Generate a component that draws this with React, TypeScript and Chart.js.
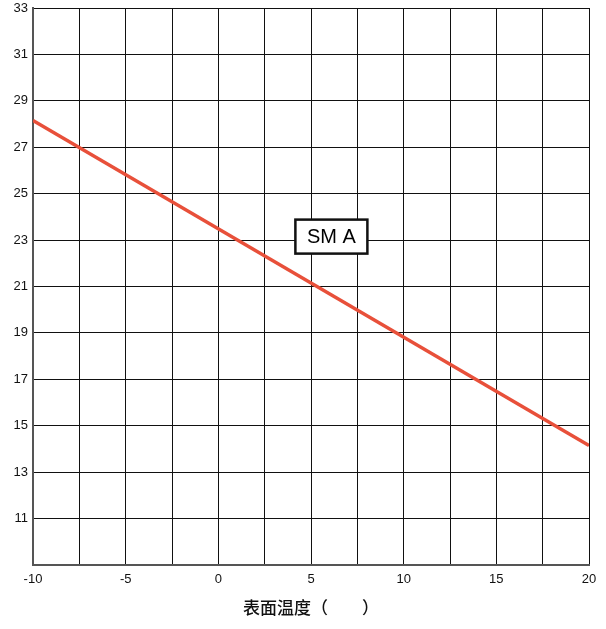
import React, { useEffect, useRef } from "react";
import { Chart, registerables } from "chart.js";

Chart.register(...registerables);

const xValues = [-10, 20];
const yValues = [28.15, 14.15];
const seriesLabel = "SM A";
const labelAt = { x: 6.1, y: 23.15 };
const xTitle = "表面温度（　　）";
const xMin = -10, xMax = 20, xStep = 2.5;
const yMin = 9, yMax = 33, yStep = 2;

const labelPlugin = {
  id: "smaLabel",
  afterDatasetsDraw(chart: any) {
    const { ctx, scales } = chart;
    const cx = scales.x.getPixelForValue(labelAt.x);
    const cy = scales.y.getPixelForValue(labelAt.y);
    ctx.save();
    ctx.font = "20px 'Liberation Sans', Arial, sans-serif";
    const w = 72, h = 34;
    ctx.fillStyle = "#fff";
    ctx.fillRect(cx - w / 2, cy - h / 2, w, h);
    ctx.lineWidth = 2.5;
    ctx.strokeStyle = "#111";
    ctx.strokeRect(cx - w / 2, cy - h / 2, w, h);
    ctx.fillStyle = "#000";
    ctx.textAlign = "center";
    ctx.textBaseline = "middle";
    ctx.fillText(seriesLabel, cx, cy + 1);
    ctx.restore();
  },
};

export default function App() {
  const ref = useRef<HTMLCanvasElement>(null);
  useEffect(() => {
    if (!ref.current) return;
    const chart = new Chart(ref.current, {
      type: "line",
      data: {
        datasets: [
          {
            label: seriesLabel,
            data: xValues.map((x, i) => ({ x, y: yValues[i] })),
            borderColor: "#e8503a",
            borderWidth: 3.5,
            pointRadius: 0,
            fill: false,
          },
        ],
      },
      options: {
        animation: false,
        responsive: true,
        maintainAspectRatio: false,
        layout: { padding: { top: 8, right: 17, left: 0, bottom: 0 } },
        plugins: { legend: { display: false }, tooltip: { enabled: false } },
        scales: {
          x: {
            type: "linear",
            min: xMin,
            max: xMax,
            afterFit: (s: any) => { s.height = 64; s.paddingLeft = 0; s.paddingRight = 0; },
            ticks: {
              stepSize: xStep,
              padding: 7,
              maxRotation: 0,
              autoSkip: false,
              color: "#111",
              font: { family: "'Liberation Sans', Arial, sans-serif", size: 13 },
              callback: (v: any) => (Number(v) % 5 === 0 ? String(v) : ""),
            },
            grid: { color: "#111", lineWidth: 1, drawTicks: false },
            border: { color: "#555", width: 2 },
            title: {
              display: true,
              text: xTitle,
              color: "#111",
              padding: { top: 4, bottom: 11 },
              font: { family: "'Noto Sans CJK SC', sans-serif", size: 17, weight: "500" as any },
            },
          },
          y: {
            type: "linear",
            min: yMin,
            max: yMax,
            afterFit: (s: any) => { s.width = 33; s.paddingTop = 0; s.paddingBottom = 0; },
            ticks: {
              stepSize: yStep,
              padding: 5,
              autoSkip: false,
              color: "#111",
              font: { family: "'Liberation Sans', Arial, sans-serif", size: 13 },
              callback: (v: any) => (Number(v) === yMin ? "" : String(v)),
            },
            grid: { color: "#111", lineWidth: 1, drawTicks: false },
            border: { color: "#555", width: 2 },
          },
        },
      },
      plugins: [labelPlugin],
    });
    return () => chart.destroy();
  }, []);
  return (
    <div style={{ position: "absolute", left: 0, top: 0, width: 606, height: 629, background: "#fff" }}>
      <canvas ref={ref} />
    </div>
  );
}
